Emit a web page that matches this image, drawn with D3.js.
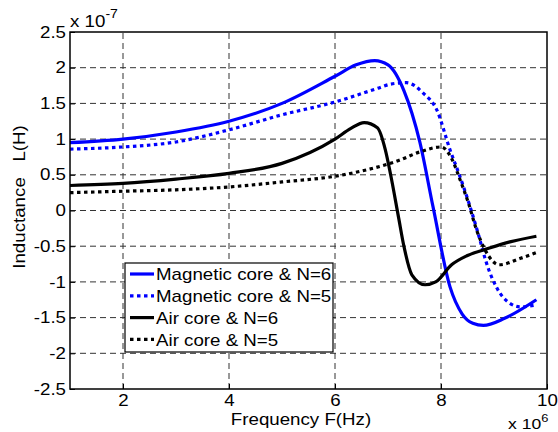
<!DOCTYPE html>
<html>
<head>
<meta charset="utf-8">
<script src="https://cdn.jsdelivr.net/npm/d3@7"></script>
<style>
  body { margin: 0; background: #fff; }
  svg { font-family: "Liberation Sans", Arial, sans-serif; }
  .tick text { font-size: 16px; fill: #000; }
</style>
</head>
<body>
<svg id="chart" width="558" height="432"></svg>
<script>
// frequency in units of 1e6 Hz, inductance in units of 1e-7 H
let freqMag6 = [1, 2, 3, 4, 5, 6, 6.4, 6.75, 7.0, 7.3, 7.6, 7.85, 8.17, 8.4, 8.6, 8.8, 9.2, 9.8]
let indMag6  = [0.95, 1.0, 1.1, 1.25, 1.5, 1.88, 2.04, 2.1, 2.04, 1.68, 0.96, 0.05, -1.07, -1.45, -1.58, -1.61, -1.51, -1.25]

let freqMag5 = [1, 2, 3, 4, 5, 6, 6.8, 7.05, 7.35, 7.67, 7.92, 8.17, 8.36, 8.55, 8.7, 8.86, 9.05, 9.3, 9.5, 9.8]
let indMag5  = [0.86, 0.89, 0.96, 1.13, 1.34, 1.52, 1.71, 1.77, 1.79, 1.64, 1.41, 0.85, 0.47, 0.05, -0.32, -0.74, -1.08, -1.3, -1.35, -1.32]

let freqAir6 = [1, 2, 3, 4, 5, 6, 6.3, 6.55, 6.8, 6.95, 7.05, 7.2, 7.3, 7.45, 7.7, 7.9, 8.2, 8.5, 8.9, 9.3, 9.8]
let indAir6  = [0.35, 0.38, 0.44, 0.52, 0.66, 1.0, 1.15, 1.23, 1.16, 0.85, 0.5, -0.1, -0.5, -0.9, -1.04, -1.0, -0.76, -0.63, -0.53, -0.44, -0.36]

let freqAir5 = [1, 2, 3, 4, 5, 6, 6.6, 7.2, 7.6, 8.0, 8.2, 8.36, 8.52, 8.67, 8.83, 9.1, 9.5, 9.8]
let indAir5  = [0.25, 0.27, 0.29, 0.33, 0.40, 0.48, 0.57, 0.70, 0.82, 0.89, 0.73, 0.43, 0.10, -0.27, -0.55, -0.76, -0.67, -0.59]

let seriesNames = ["Magnetic core & N=6", "Magnetic core & N=5", "Air core & N=6", "Air core & N=5"]

let xTicks = [2, 4, 6, 8, 10]
let yTicks = [-2.5, -2, -1.5, -1, -0.5, 0, 0.5, 1, 1.5, 2, 2.5]

let svg = d3.select("#chart")
let margin = { top: 32, right: 11, bottom: 43, left: 70 }
let width = 558, height = 432
let stretch = 1.17 // text in the reference is a bit wider than Arial

let x = d3.scaleLinear().domain([1, 10]).range([margin.left, width - margin.right])
let y = d3.scaleLinear().domain([-2.5, 2.5]).range([height - margin.bottom, margin.top])

// widen a text element horizontally around its x position
function widen(sel) {
  sel.each(function () {
    let t = d3.select(this)
    let tx = +t.attr("x") || 0
    t.attr("x", 0).attr("transform", `translate(${tx},0) scale(${stretch},1)`)
  })
}

// grid
let grid = svg.append("g")
grid.selectAll("line.vx")
  .data(xTicks.filter(d => d < 10))
  .join("line")
  .attr("x1", d => x(d)).attr("x2", d => x(d))
  .attr("y1", y(-2.5)).attr("y2", y(2.5))
  .attr("stroke", "#333").attr("stroke-width", 1).attr("stroke-dasharray", "6,4")
grid.selectAll("line.hy")
  .data(yTicks.filter(d => d > -2.5 && d < 2.5))
  .join("line")
  .attr("x1", x(1)).attr("x2", x(10))
  .attr("y1", d => y(d)).attr("y2", d => y(d))
  .attr("stroke", "#333").attr("stroke-width", 1).attr("stroke-dasharray", "6,4")

// axes
let xAxis = d3.axisBottom(x).tickValues(xTicks).tickSize(-5).tickPadding(6).tickFormat(d3.format("d"))
let yAxis = d3.axisLeft(y).tickValues(yTicks).tickSize(-5).tickPadding(4).tickFormat(d => String(d))

svg.append("g")
  .attr("transform", `translate(0,${height - margin.bottom})`)
  .call(xAxis)
  .call(g => g.select(".domain").remove())
  .call(g => g.selectAll(".tick line").attr("stroke", "#000"))
  .call(g => widen(g.selectAll(".tick text")))

svg.append("g")
  .attr("transform", `translate(${margin.left},0)`)
  .call(yAxis)
  .call(g => g.select(".domain").remove())
  .call(g => g.selectAll(".tick line").attr("stroke", "#000"))
  .call(g => widen(g.selectAll(".tick text")))

let line = d3.line()
  .x(d => x(d[0]))
  .y(d => y(d[1]))
  .curve(d3.curveMonotoneX)

let series = [
  { name: seriesNames[0], f: freqMag6, v: indMag6, color: "#0000ff", dash: null },
  { name: seriesNames[1], f: freqMag5, v: indMag5, color: "#0000ff", dash: "3.5,3.5" },
  { name: seriesNames[2], f: freqAir6, v: indAir6, color: "#000000", dash: null },
  { name: seriesNames[3], f: freqAir5, v: indAir5, color: "#000000", dash: "3.5,3.5" }
]

let plot = svg.append("g")
plot.selectAll("path")
  .data(series)
  .join("path")
  .attr("d", s => line(s.f.map((f, i) => [f, s.v[i]])))
  .attr("fill", "none")
  .attr("stroke", s => s.color)
  .attr("stroke-width", 3.2)
  .attr("stroke-dasharray", s => s.dash)
  .attr("stroke-linejoin", "round")

// box
svg.append("rect")
  .attr("x", x(1)).attr("y", y(2.5))
  .attr("width", x(10) - x(1)).attr("height", y(-2.5) - y(2.5))
  .attr("fill", "none").attr("stroke", "#000").attr("stroke-width", 1.5)

// legend
let legend = svg.append("g")
legend.append("rect")
  .attr("x", 125).attr("y", 263).attr("width", 208).attr("height", 89)
  .attr("fill", "#fff").attr("stroke", "#000").attr("stroke-width", 1.2)

let rows = legend.selectAll("g.row")
  .data(series)
  .join("g")
  .attr("transform", (d, i) => `translate(0,${274 + i * 21.8})`)

rows.append("line")
  .attr("x1", 130).attr("x2", 154).attr("y1", 0).attr("y2", 0)
  .attr("stroke", d => d.color).attr("stroke-width", 3.2)
  .attr("stroke-dasharray", d => d.dash)

rows.append("text")
  .attr("font-size", 16)
  .attr("transform", `translate(156,6.3) scale(${stretch},1)`)
  .text(d => d.name)

// exponent labels
let ex = svg.append("text").attr("font-size", 16)
  .attr("transform", `translate(70,27) scale(${stretch},1)`)
ex.append("tspan").text("x 10")
ex.append("tspan").attr("dy", -9).attr("font-size", 12).text("-7")

let ex2 = svg.append("text").attr("font-size", 15)
  .attr("transform", `translate(508,429) scale(${stretch},1)`)
ex2.append("tspan").text("x 10")
ex2.append("tspan").attr("dy", -7).attr("font-size", 11).text("6")

// axis titles
svg.append("text")
  .attr("transform", `translate(301,425) scale(${stretch},1)`)
  .attr("text-anchor", "middle")
  .attr("font-size", 16)
  .text("Frequency F(Hz)")

svg.append("text")
  .attr("transform", `translate(25,197) rotate(-90) scale(${stretch},1)`)
  .attr("text-anchor", "middle")
  .attr("font-size", 16)
  .style("white-space", "pre")
  .text("Inductance   L(H)")
</script>
</body>
</html>
